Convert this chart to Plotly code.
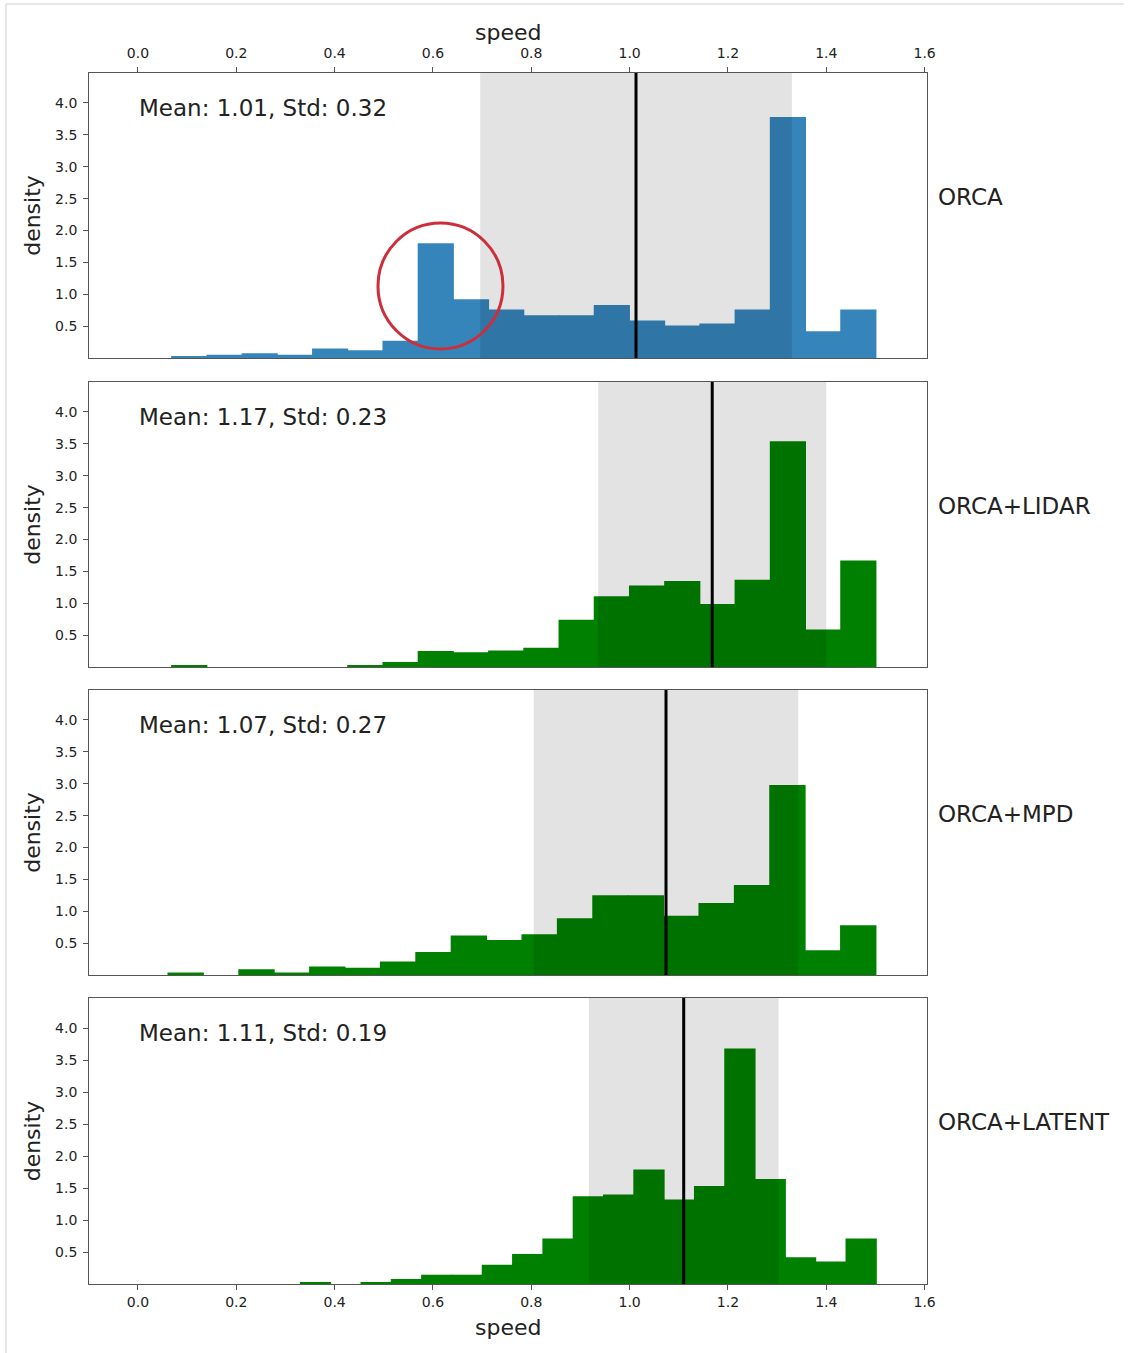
import plotly.graph_objects as go

W, H = 1133, 1353

labels = ["ORCA", "ORCA+LIDAR", "ORCA+MPD", "ORCA+LATENT"]
means = [1.013, 1.168, 1.074, 1.110]
stds = [0.317, 0.232, 0.269, 0.193]

# histogram bin ranges (lowest edge, highest edge) and densities per bin
bin_lo = [0.0686, 0.0686, 0.0611, 0.3303]
bin_hi = [1.501, 1.501, 1.501, 1.5018]

dens_orca = [0.03, 0.05, 0.075, 0.05, 0.15, 0.12, 0.27, 1.80, 0.92, 0.76,
             0.67, 0.67, 0.83, 0.59, 0.51, 0.54, 0.76, 3.78, 0.42, 0.76]
dens_lidar = [0.03, 0.0, 0.0, 0.0, 0.0, 0.03, 0.08, 0.25, 0.23, 0.26,
              0.30, 0.74, 1.11, 1.28, 1.35, 0.99, 1.37, 3.54, 0.59, 1.67]
dens_mpd = [0.04, 0.0, 0.09, 0.04, 0.135, 0.115, 0.21, 0.36, 0.62, 0.55,
            0.64, 0.89, 1.25, 1.25, 0.93, 1.13, 1.41, 2.98, 0.39, 0.78]
dens_latent = [0.02, 0.0, 0.02, 0.08, 0.145, 0.145, 0.30, 0.47, 0.71, 1.37,
               1.40, 1.79, 1.32, 1.53, 3.68, 1.64, 0.42, 0.35, 0.71]
densities = [dens_orca, dens_lidar, dens_mpd, dens_latent]

x_ticks = [0.0, 0.2, 0.4, 0.6, 0.8, 1.0, 1.2, 1.4, 1.6]
y_ticks = [0.5, 1.0, 1.5, 2.0, 2.5, 3.0, 3.5, 4.0]

colors = ["#3585bb", "#008000", "#008000", "#008000"]

# layout geometry (pixels)
LEFT, RIGHT = 90, 934
TOPS = [73, 382, 690, 998]
BOTS = [358, 667, 975, 1284]
XR = [-0.099, 1.604]
YR = [0, 4.47]

FONT = "DejaVu Sans"
TXT = "#222222"
AXC = "#555"

fig = go.Figure()
shapes = []
annotations = []

for i in range(4):
    n = len(densities[i])
    w = (bin_hi[i] - bin_lo[i]) / n
    centers = [bin_lo[i] + w * (k + 0.5) for k in range(n)]
    sfx = "" if i == 0 else str(i + 1)
    fig.add_trace(go.Bar(
        x=centers, y=densities[i], width=[w + 0.002] * n,
        marker=dict(color=colors[i], line=dict(width=0)),
        xaxis="x" + sfx, yaxis="y" + sfx, showlegend=False, hoverinfo="x+y"))

    xd = [LEFT / W, RIGHT / W]
    yd = [1 - BOTS[i] / H, 1 - TOPS[i] / H]
    xa = dict(domain=xd, range=XR, anchor="y" + sfx, showgrid=False, zeroline=False,
              showline=True, mirror=True, linecolor=AXC, linewidth=1.2,
              tickvals=x_ticks, tickformat=".1f",
              tickfont=dict(family=FONT, size=14, color=TXT))
    if i == 0:
        xa.update(side="top", ticks="outside", ticklen=5, tickcolor=AXC, ticklabelstandoff=3)
    elif i == 3:
        xa.update(side="bottom", ticks="outside", ticklen=5, tickcolor=AXC)
    else:
        xa.update(ticks="", showticklabels=False)
    ya = dict(domain=yd, range=YR, anchor="x" + sfx, showgrid=False, zeroline=False,
              showline=True, mirror=True, linecolor=AXC, linewidth=1.2,
              tickvals=y_ticks, tickformat=".1f", ticks="outside", ticklen=5, tickcolor=AXC,
              ticklabelstandoff=3,
              tickfont=dict(family=FONT, size=14, color=TXT),
              title=dict(text="density", font=dict(family=FONT, size=22, color=TXT), standoff=8))
    fig.layout["xaxis" + sfx] = xa
    fig.layout["yaxis" + sfx] = ya

    # mean +/- std band (drawn over the bars)
    shapes.append(dict(type="rect", xref="x" + sfx, yref="y" + sfx + " domain",
                       x0=means[i] - stds[i], x1=means[i] + stds[i], y0=0, y1=1,
                       fillcolor="rgba(0,0,0,0.11)", line=dict(width=0), layer="above"))
    # mean line
    shapes.append(dict(type="line", xref="x" + sfx, yref="y" + sfx + " domain",
                       x0=means[i], x1=means[i], y0=0, y1=1,
                       line=dict(color="black", width=3), layer="above"))

    annotations.append(dict(text="Mean: %.2f, Std: %.2f" % (means[i], stds[i]),
                            xref="x" + sfx + " domain", yref="y" + sfx + " domain",
                            x=(138 - LEFT) / (RIGHT - LEFT), y=1 - 35 / 285,
                            xanchor="left", yanchor="middle", showarrow=False,
                            font=dict(family=FONT, size=23, color=TXT)))
    annotations.append(dict(text=labels[i], xref="paper", yref="paper",
                            x=943 / W, y=1 - (TOPS[i] + 124) / H,
                            xanchor="left", yanchor="middle", showarrow=False,
                            font=dict(family=FONT, size=23, color=TXT)))

# x axis titles
for py in (32, 1327):
    annotations.append(dict(text="speed", xref="paper", yref="paper",
                            x=(LEFT + RIGHT) / 2 / W, y=1 - py / H,
                            xanchor="center", yanchor="middle", showarrow=False,
                            font=dict(family=FONT, size=22, color=TXT)))

# red circle highlighting the peak in the ORCA panel
shapes.append(dict(type="circle", xref="paper", yref="paper",
                   x0=381 / W, x1=507 / W, y0=1 - 349 / H, y1=1 - 223 / H,
                   line=dict(color="#cc2f3a", width=3), layer="above"))
# notebook frame
shapes.append(dict(type="line", xref="paper", yref="paper", x0=6 / W, x1=1, y0=1 - 4 / H, y1=1 - 4 / H,
                   line=dict(color="#cfcfcf", width=1)))
shapes.append(dict(type="line", xref="paper", yref="paper", x0=6 / W, x1=6 / W, y0=0, y1=1 - 4 / H,
                   line=dict(color="#cfcfcf", width=1)))

fig.update_layout(width=W, height=H, autosize=False, margin=dict(l=0, r=0, t=0, b=0),
                  paper_bgcolor="white", plot_bgcolor="white",
                  barmode="overlay", shapes=shapes, annotations=annotations,
                  font=dict(family=FONT, color=TXT))

post = ("document.documentElement.style.overflow='hidden';"
        "document.body.style.overflow='hidden';document.body.style.margin='0';")

fig.write_html("out.html", post_script=post, config={"responsive": False})
